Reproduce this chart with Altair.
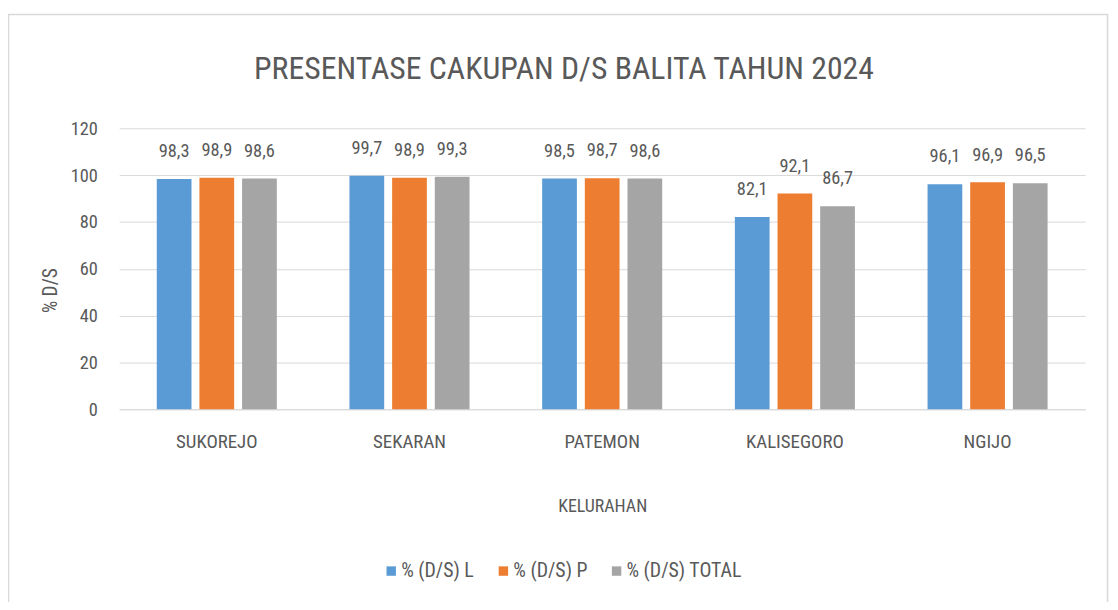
import altair as alt
import pandas as pd

kelurahan = ["SUKOREJO", "SEKARAN", "PATEMON", "KALISEGORO", "NGIJO"]
series = ["% (D/S) L", "% (D/S) P", "% (D/S) TOTAL"]
ds_l = [98.3, 99.7, 98.5, 82.1, 96.1]
ds_p = [98.9, 98.9, 98.7, 92.1, 96.9]
ds_total = [98.6, 99.3, 98.6, 86.7, 96.5]
colors = ["#5B9BD5", "#ED7D31", "#A5A5A5"]
judul = "PRESENTASE CAKUPAN D/S BALITA TAHUN 2024"

rows = []
for s, vals in zip(series, [ds_l, ds_p, ds_total]):
    for k, v in zip(kelurahan, vals):
        rows.append({"kelurahan": k, "seri": s, "nilai": v})
df = pd.DataFrame(rows)

FONT = "Roboto Condensed, Roboto, sans-serif"
TXT = "#595959"

base = alt.Chart(df).encode(
    x=alt.X("kelurahan:N", sort=kelurahan,
            scale=alt.Scale(paddingInner=0.377, paddingOuter=0.195),
            axis=alt.Axis(title="KELURAHAN", labelAngle=0, labelFontSize=19,
                          labelFont=FONT, labelColor=TXT, ticks=False,
                          labelPadding=24, domainColor="#D9D9D9",
                          titleFont=FONT, titleFontSize=18, titleColor=TXT,
                          titleFontWeight="normal", titlePadding=46)),
    xOffset=alt.XOffset("seri:N", sort=series,
                        scale=alt.Scale(paddingInner=0.186, paddingOuter=0)),
)

bars = base.mark_bar().encode(
    y=alt.Y("nilai:Q", scale=alt.Scale(domain=[0, 120]),
            axis=alt.Axis(title="% D/S", values=[0, 20, 40, 60, 80, 100, 120],
                          labelFontSize=18.5, labelFont=FONT, labelColor=TXT,
                          ticks=False, domain=False, labelPadding=22,
                          gridColor="#D9D9D9", titleFont=FONT, titleFontSize=19.5,
                          titleColor=TXT, titleFontWeight="normal",
                          titleX=-63, titleY=163, titleBaseline="alphabetic")),
    color=alt.Color("seri:N", sort=series,
                    scale=alt.Scale(domain=series, range=colors),
                    legend=alt.Legend(orient="none", legendX=264, legendY=436,
                                      direction="horizontal", title=None,
                                      symbolType="square", symbolSize=90,
                                      symbolStrokeWidth=0,
                                      labelFontSize=20, labelFont=FONT,
                                      labelColor=TXT, labelOffset=0,
                                      columnPadding=19, padding=0)),
)

labels = base.mark_text(baseline="alphabetic", dy=-22, fontSize=18.5,
                        font=FONT, color=TXT).transform_calculate(
    label="replace(format(datum.nilai, '.1f'), '.', ',')"
).encode(
    y=alt.Y("nilai:Q"),
    text="label:N",
)

border = alt.Chart(alt.Data(values=[{}])).mark_rect(
    fill=None, stroke="#D9D9D9", strokeWidth=1.5
).encode(
    x=alt.value(-111.5), x2=alt.value(995.5),
    y=alt.value(-114.5), y2=alt.value(600),
)

title = alt.Chart(alt.Data(values=[{}])).mark_text(
    font=FONT, fontSize=32, color=TXT, align="center",
    baseline="alphabetic"
).encode(
    x=alt.value(448), y=alt.value(-50), text=alt.value(judul),
)

chart = alt.layer(border, title, bars, labels).properties(
    width=973, height=283,
    autosize=alt.AutoSizeParams(type="none"),
    padding={"left": 112, "top": 119, "right": 25, "bottom": 192},
    background="white",
).configure_view(stroke=None)

chart.save("out.html", embed_options={"renderer": "svg", "actions": False})
